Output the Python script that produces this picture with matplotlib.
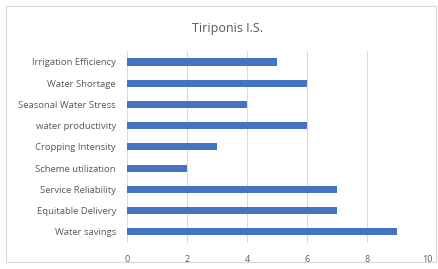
import matplotlib.pyplot as plt
import numpy as np
from matplotlib.patches import Rectangle

categories = ['Water savings', 'Equitable Delivery', 'Service Reliability',
              'Scheme utilization', 'Cropping Intensity', 'water productivity',
              'Seasonal Water Stress', 'Water Shortage', 'Irrigation Efficiency']
values = [9, 7, 7, 2, 3, 6, 4, 6, 5]
xticks = [0, 2, 4, 6, 8, 10]

plt.rcParams['font.family'] = ['Open Sans', 'DejaVu Sans']

fig = plt.figure(figsize=(4.38, 2.69), dpi=100)
ax = fig.add_axes([0.29, 0.0985, 0.685, 0.7105])

y = np.arange(len(categories))
ax.barh(y, values, height=0.33, color='#4472C4', zorder=3)

ax.set_xlim(0, 10)
ax.set_ylim(-0.5, len(categories) - 0.5)
ax.set_xticks(xticks)
ax.set_yticks(y)
ax.set_yticklabels(categories)
ax.tick_params(axis='both', length=0, colors='#595959')
ax.tick_params(axis='x', pad=9, labelsize=6.5)
ax.tick_params(axis='y', pad=8, labelsize=6.8)
ax.grid(axis='x', color='#d9d9d9', linewidth=0.7, zorder=0)
for s in ax.spines.values():
    s.set_visible(False)

fig.text(0.52, 0.895, 'Tiriponis I.S.', ha='center', va='center',
         fontsize=9, color='#595959')

fig.patches.append(Rectangle((6 / 438, 1 - 262 / 269), 430 / 438, 256 / 269,
                             transform=fig.transFigure, fill=False,
                             edgecolor='#d9d9d9', linewidth=0.8))

fig.savefig('out.png', dpi=100)
